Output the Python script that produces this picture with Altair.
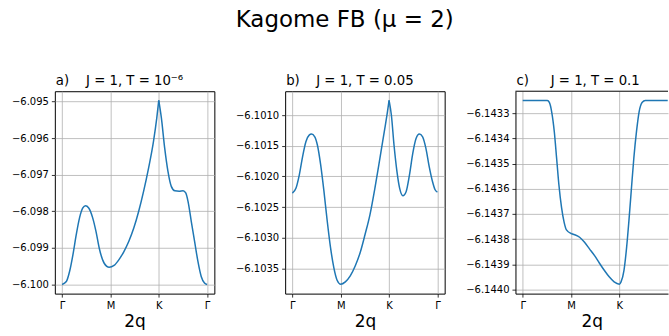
import json
import altair as alt
import pandas as pd

FONT = "DejaVu Sans"
LINE_COLOR = "#1f77b4"

# x-axis high-symmetry path
tick_pos = [0, 1, 2, 3]
tick_labels = ["Γ", "M", "K", "Γ"]

# panel a) J = 1, T = 1e-6
qa = [0, 0.088, 0.156, 0.224, 0.293, 0.361, 0.429, 0.483, 0.551, 0.633, 0.701, 0.769,
      0.871, 0.973, 1.075, 1.177, 1.279, 1.381, 1.483, 1.585, 1.687, 1.789, 1.891, 1.959,
      2.0, 2.054, 2.122, 2.190, 2.259, 2.333, 2.422, 2.503, 2.558, 2.605, 2.673, 2.741,
      2.810, 2.878, 2.946, 3.0]
ea = [-6.10000, -6.09992, -6.09964, -6.09919, -6.09864, -6.09818, -6.09791, -6.09785,
      -6.09791, -6.09818, -6.09855, -6.09901, -6.09942, -6.09953, -6.09948, -6.09932,
      -6.09910, -6.09882, -6.09846, -6.09800, -6.09745, -6.09682, -6.09609, -6.09545,
      -6.09497, -6.09545, -6.09627, -6.09691, -6.09732, -6.09744, -6.09745, -6.09744,
      -6.09750, -6.09773, -6.09828, -6.09882, -6.09937, -6.09978, -6.09996, -6.10000]

# panel b) J = 1, T = 0.05
qb = [0, 0.075, 0.143, 0.211, 0.279, 0.347, 0.395, 0.463, 0.517, 0.585, 0.653, 0.721,
      0.789, 0.857, 0.925, 1.0, 1.095, 1.197, 1.299, 1.401, 1.503, 1.605, 1.707, 1.810,
      1.912, 1.966, 2.0, 2.048, 2.102, 2.163, 2.218, 2.286, 2.354, 2.422, 2.490, 2.558,
      2.626, 2.694, 2.762, 2.830, 2.898, 2.952, 3.0]
eb = [-6.102272, -6.102190, -6.101974, -6.101676, -6.101433, -6.101325, -6.101308,
      -6.101352, -6.101487, -6.101812, -6.102245, -6.102732, -6.103164, -6.103489,
      -6.103695, -6.103760, -6.103722, -6.103624, -6.103462, -6.103246, -6.102948,
      -6.102623, -6.102190, -6.101703, -6.101216, -6.100946, -6.100757, -6.101000,
      -6.101487, -6.101920, -6.102190, -6.102315, -6.102245, -6.101974, -6.101622,
      -6.101379, -6.101308, -6.101352, -6.101541, -6.101839, -6.102082, -6.102217,
      -6.102255]

# panel c) J = 1, T = 0.1
qc = [0, 0.510, 0.551, 0.599, 0.653, 0.701, 0.748, 0.803, 0.857, 0.905, 1.0, 1.075,
      1.177, 1.279, 1.381, 1.483, 1.585, 1.687, 1.789, 1.891, 2.0, 2.034, 2.095, 2.150,
      2.197, 2.245, 2.299, 2.354, 2.408, 2.469, 2.537, 3.0]
ec = [-6.143250, -6.143250, -6.143258, -6.143295, -6.143373, -6.143478, -6.143583,
      -6.143674, -6.143733, -6.143763, -6.143777, -6.143782, -6.143792, -6.143812,
      -6.143838, -6.143864, -6.143894, -6.143923, -6.143949, -6.143969, -6.143978,
      -6.143969, -6.143923, -6.143831, -6.143727, -6.143609, -6.143478, -6.143373,
      -6.143295, -6.143258, -6.143250, -6.143250]

# position of the kink in each curve (line is split there so it stays sharp)
cusp_a, cusp_b, cusp_c = 2.0, 2.0, 1.0

yticks_a = [-6.100, -6.099, -6.098, -6.097, -6.096, -6.095]
yticks_b = [-6.1035, -6.1030, -6.1025, -6.1020, -6.1015, -6.1010]
yticks_c = [-6.1440, -6.1439, -6.1438, -6.1437, -6.1436, -6.1435, -6.1434, -6.1433]

label_expr = json.dumps(tick_labels) + "[datum.value]"

W, H = 160, 203
PX_PER_UNIT = W / 3.3
WC = 153  # last panel is cut by the page edge
TITLE_SIZE = 13.3


def split(q, e, cusp):
    rows = []
    for qi, ei in zip(q, e):
        if qi <= cusp:
            rows.append({"q": qi, "E": ei, "seg": 0})
        if qi >= cusp:
            rows.append({"q": qi, "E": ei, "seg": 1})
    return pd.DataFrame(rows)


def panel(q, e, cusp, ydom, yticks, fmt, letter, label, width=W, last=False):
    df = split(q, e, cusp)
    xmax = -0.15 + width / PX_PER_UNIT
    xvals = [v for v in tick_pos if v <= xmax - 0.05]
    line = alt.Chart(df).mark_line(color=LINE_COLOR, strokeWidth=1.5, clip=True,
                                   interpolate="monotone").encode(
        x=alt.X("q:Q",
                scale=alt.Scale(domain=[-0.15, xmax], nice=False, zero=False),
                axis=alt.Axis(values=xvals, labelExpr=label_expr, title="2q",
                              domain=last, domainColor="black", domainWidth=1)),
        y=alt.Y("E:Q",
                scale=alt.Scale(domain=ydom, nice=False, zero=False),
                axis=alt.Axis(values=yticks, format=fmt, title=None,
                              domain=last, domainColor="black", domainWidth=1)),
        detail="seg:N",
    )
    lt = alt.Chart(pd.DataFrame({"t": [letter]})).mark_text(
        align="left", baseline="alphabetic", fontSize=TITLE_SIZE, font=FONT, color="black"
    ).encode(x=alt.value(1), y=alt.value(-6), text="t:N")
    tt = alt.Chart(pd.DataFrame({"t": [label]})).mark_text(
        align="center", baseline="alphabetic", fontSize=TITLE_SIZE, font=FONT, color="black"
    ).encode(x=alt.value(W / 2), y=alt.value(-6), text="t:N")
    layers = [line, lt, tt]
    props = dict(width=width, height=H)
    if last:
        top = alt.Chart(pd.DataFrame({"t": [0]})).mark_rule(
            color="black", strokeWidth=1
        ).encode(x=alt.value(0), x2=alt.value(width), y=alt.value(0))
        layers.append(top)
        props["view"] = alt.ViewBackground(strokeOpacity=0)
    return alt.layer(*layers).properties(**props)


pa = panel(qa, ea, cusp_a, [-6.10025, -6.09472], yticks_a, ".3f", "a)", "J = 1, T = 10⁻⁶")
pb = panel(qb, eb, cusp_b, [-6.103914, -6.100608], yticks_b, ".4f", "b)", "J = 1, T = 0.05")
pc = panel(qc, ec, cusp_c, [-6.1440154, -6.1432136], yticks_c, ".4f", "c)", "J = 1, T = 0.1",
           width=WC, last=True)

chart = alt.hconcat(pa, pb, pc, spacing=71, bounds="flush").properties(
    title=alt.TitleParams("Kagome FB (μ = 2)", fontSize=23, font=FONT, dx=5,
                          fontWeight="normal", anchor="middle", color="black", offset=42),
    padding={"left": 10, "top": 8, "right": 0, "bottom": 0},
    background="white",
).configure_view(
    stroke="black", strokeWidth=1
).configure_axis(
    labelFont=FONT, labelFontSize=10, labelColor="black",
    titleFont=FONT, titleFontSize=17, titleFontWeight="normal", titleColor="black",
    titlePadding=3,
    tickColor="black", tickSize=3.5, tickWidth=0.8, labelPadding=3,
    domain=False, grid=True, gridColor="#b0b0b0", gridWidth=0.8,
)

chart.save("out.html", embed_options={"renderer": "svg", "actions": False})
